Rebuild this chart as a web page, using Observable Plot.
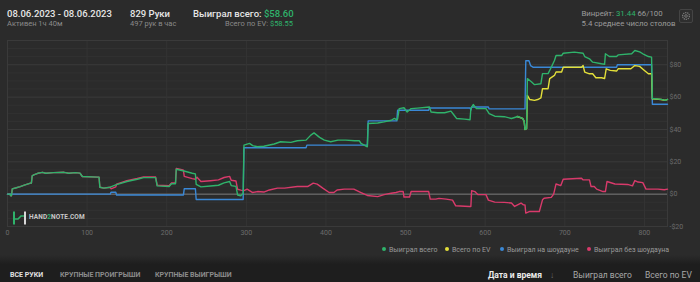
<!DOCTYPE html>
<html>
<head>
<meta charset="utf-8">
<script src="https://cdn.jsdelivr.net/npm/d3@7"></script>
<script src="https://cdn.jsdelivr.net/npm/@observablehq/plot@0.6"></script>
<style>
  html, body { margin: 0; padding: 0; }
  body { width: 700px; height: 282px; overflow: hidden; background: #2b2b2b; font-family: Roboto, "Noto Sans", sans-serif; position: relative; }
  .t { position: absolute; white-space: nowrap; line-height: 1; }
  .big { font-size: 9.5px; font-weight: 500; color: #e6e6e6; }
  .small { font-size: 7.5px; color: #8a8a8a; }
  .g { color: #2fb36b; }
  #chart { position: absolute; left: 0; top: 38px; }
  .leg { position: absolute; top: 246.5px; font-size: 7px; color: #9a9a9a; white-space: nowrap; line-height: 1; }
  .leg i { display: inline-block; width: 4px; height: 4px; border-radius: 50%; margin-right: 3px; vertical-align: 1px; }
  #band { position: absolute; left: 0; top: 255px; width: 700px; height: 27px; background: linear-gradient(#2b2b2b 0%, #1e1e1e 35%, #1e1e1e 100%); }
  .tab { font-size: 7px; font-weight: 700; color: #8c8c8c; }
  .col { font-size: 8.5px; color: #a8a8a8; }
</style>
</head>
<body>
<div class="t big" style="left:7px;top:9.3px">08.06.2023 - 08.06.2023</div>
<div class="t small" style="left:7px;top:20.4px">Активен 1ч 40м</div>
<div class="t big" style="left:130px;top:9.3px">829 Руки</div>
<div class="t small" style="left:130px;top:20.4px">497 рук в час</div>
<div class="t big" style="left:193px;top:9.3px">Выиграл всего: <span class="g">$58.60</span></div>
<div class="t small" style="right:407px;top:20.4px">Всего по EV: <span class="g">$58.55</span></div>
<div class="t small" style="left:581.5px;top:10.2px;font-size:7.8px;color:#9c9c9c">Винрейт: <span class="g">31.44</span> 66/100</div>
<div class="t small" style="left:581.5px;top:20.2px;font-size:7.8px;color:#9c9c9c">5.4 среднее число столов</div>
<div style="position:absolute;left:679px;top:9px;width:14px;height:14px;border:1px solid #444;border-radius:2px;box-sizing:border-box;background:#2e2e2e">
  <svg width="12" height="12" viewBox="0 0 12 12" style="position:absolute;left:0;top:0">
    <circle cx="6" cy="6" r="3.4" fill="none" stroke="#7d7d7d" stroke-width="1.2" stroke-dasharray="1.3 0.8"/>
    <circle cx="6" cy="6" r="1.3" fill="none" stroke="#7d7d7d" stroke-width="0.9"/>
  </svg>
</div>

<div id="chart"></div>

<div style="position:absolute;left:12px;top:210px;">
  <svg width="20" height="14" viewBox="0 0 20 14">
    <rect x="1" y="0.5" width="2" height="13" fill="#2fb36b"/>
    <rect x="12" y="0.5" width="2" height="13" fill="#d8d8d8"/>
    <path d="M3 8 L6 8 L9 5 L12 5" fill="none" stroke="#2fb36b" stroke-width="1.6"/>
  </svg>
</div>
<div class="t" style="left:29px;top:214.3px;font-size:6.5px;font-weight:700;color:#c8c8c8;letter-spacing:0.1px">HAND<span class="g">2</span>NOTE.COM</div>

<div class="leg" style="left:382px"><i style="background:#2fb36b"></i>Выиграл всего</div>
<div class="leg" style="left:445px"><i style="background:#e3df3a"></i>Всего по EV</div>
<div class="leg" style="left:500px"><i style="background:#3a88d6"></i>Выиграл на шоудауне</div>
<div class="leg" style="left:587px"><i style="background:#d93a6b"></i>Выиграл без шоудауна</div>

<div id="band"></div>
<div class="t tab" style="left:10px;top:272.4px;color:#e2e2e2">ВСЕ РУКИ</div>
<div class="t tab" style="left:60px;top:272.4px">КРУПНЫЕ ПРОИГРЫШИ</div>
<div class="t tab" style="left:155px;top:272.4px">КРУПНЫЕ ВЫИГРЫШИ</div>
<div class="t col" style="left:488px;top:271.3px;font-weight:700;color:#ececec">Дата и время</div>
<div class="t col" style="left:550px;top:271.3px;color:#707070">↓</div>
<div class="t col" style="left:573px;top:271.3px">Выиграл всего</div>
<div class="t col" style="left:645px;top:271.3px">Всего по EV</div>

<script>
// ---- data: [hand number, dollars] ----
const totalWon = [[0,0],[3,0],[4,-1],[5,-1],[6,3.3],[10,3.8],[16,4.7],[22,5.7],[29,6.8],[30,6.8],[31,11.3],[33,11.9],[38,12.9],[44,13.5],[48,12.9],[58,13.3],[71,13.5],[77,12.9],[85,13.3],[91,13.0],[92,12.3],[94,10.9],[113,10.5],[115,10.5],[116,4.3],[121,3.7],[129,4.3],[136,5.7],[150,7.8],[163,9.2],[171,10.2],[186,10.2],[188,5.1],[203,4.7],[206,6.4],[211,6.4],[212,15.4],[219,14.6],[224,14.0],[232,12.9],[236,12.5],[237,6.0],[243,4.5],[255,5.0],[265,5.5],[272,7.0],[279,7.8],[281,5.3],[287,4.8],[289,-0.5],[293,-1.0],[296,0.5],[297,30.3],[304,31.4],[308,30.0],[314,29.3],[322,29.6],[335,31.0],[343,32.4],[356,32.0],[364,33.0],[375,33.4],[381,36.5],[385,37.9],[392,35.1],[398,33.4],[406,32.4],[415,33.4],[425,33.4],[436,33.0],[442,33.0],[444,31.4],[452,29.3],[453,43.7],[465,44.0],[473,44.7],[482,45.7],[486,46.8],[489,45.9],[490,46.5],[492,52.9],[498,53.4],[502,50.8],[507,52.9],[515,53.2],[530,53.9],[532,50.8],[540,50.3],[549,50.3],[557,51.3],[561,48.8],[564,46.8],[574,46.4],[581,46.0],[582,52.9],[585,55.4],[589,52.9],[601,52.9],[605,49.8],[612,48.2],[624,47.9],[633,46.8],[641,48.0],[647,46.8],[649,45.0],[650,40.0],[652,40.5],[653,71.4],[658,69.5],[662,67.7],[670,68.3],[672,74.5],[679,74.5],[683,78.5],[687,82.6],[689,85.7],[696,85.7],[698,87.1],[712,87.8],[723,87.1],[725,85.1],[731,83.7],[735,81.6],[746,80.6],[750,80.3],[751,86.8],[756,85.1],[765,85.1],[767,86.1],[784,86.8],[788,88.8],[794,88.0],[798,86.8],[805,85.1],[809,84.7],[810,59.1],[821,58.6],[826,58.0],[829,58.6]];

const evWon = [[640,48.0],[647,46.8],[649,45.0],[650,40.0],[652,40.5],[653,61.1],[656,58.5],[662,58.0],[666,58.5],[670,59.5],[672,65.2],[679,65.2],[681,71.4],[687,73.4],[689,75.5],[696,75.5],[698,78.5],[721,78.5],[723,79.5],[725,75.5],[731,74.4],[735,74.4],[739,72.0],[746,72.0],[750,71.5],[752,77.5],[757,76.5],[765,76.1],[767,77.5],[783,77.5],[788,79.5],[794,79.0],[800,76.5],[805,74.4],[809,74.4],[810,58.9],[821,58.5],[826,58.0],[829,58.55]];

const showdownWon = [[0,0],[129,0],[130,1.2],[136,1.2],[137,-0.5],[221,-0.5],[222,3.3],[236,3.3],[237,-3.3],[296,-3.3],[297,28.7],[375,28.7],[376,30.3],[452,30.3],[453,45.3],[489,45.3],[490,51.9],[529,51.9],[530,53.3],[581,53.3],[582,52.0],[583,53.9],[604,53.9],[605,52.7],[650,52.7],[651,82.5],[655,82.5],[657,79.5],[660,78.5],[765,78.5],[766,80.0],[809,80.0],[810,55.6],[829,55.6]];

const nonShowdownWon = [[0,0],[3,0],[4,-1],[5,-1],[6,3.3],[10,3.8],[16,4.7],[22,5.7],[29,6.8],[30,6.8],[31,11.3],[33,11.9],[38,12.9],[44,13.5],[48,12.9],[58,13.3],[71,13.5],[77,12.9],[85,13.3],[91,13.0],[92,12.3],[94,10.9],[113,10.5],[115,10.5],[116,4.3],[121,3.7],[129,4.3],[130,3.3],[136,4.5],[137,6.2],[150,8.3],[163,9.7],[171,10.7],[186,10.7],[188,5.6],[203,5.2],[206,6.9],[211,6.9],[212,15.9],[219,15.1],[221,14.8],[222,11.0],[232,9.6],[236,9.2],[238,10.5],[243,7.8],[255,8.3],[265,8.8],[272,10.3],[279,11.0],[281,8.6],[287,8.1],[289,3.0],[293,2.5],[297,2.2],[301,3.1],[308,1.0],[314,1.6],[322,1.3],[329,2.6],[339,3.7],[348,3.7],[364,4.7],[377,4.7],[384,6.8],[389,6.2],[396,3.7],[404,1.0],[410,1.0],[414,2.6],[423,3.1],[435,3.1],[444,1.0],[452,-0.8],[465,-1.5],[473,-0.3],[482,0.6],[488,1.0],[492,1.6],[497,1.6],[498,-1.8],[505,-1.8],[507,1.6],[529,1.6],[531,-3.1],[538,-3.1],[542,-2.6],[551,-3.1],[559,-3.7],[563,-7.2],[580,-7.6],[582,-7.6],[583,2.2],[587,1.6],[591,-0.3],[601,-0.3],[604,-3.7],[612,-4.9],[624,-5.1],[633,-5.5],[637,-7.6],[645,-5.5],[648,-6.6],[650,-6.6],[651,-11.7],[656,-10.7],[668,-10.7],[672,-3.5],[674,-2.5],[683,-2.0],[686,0.0],[689,6.3],[695,5.3],[698,9.2],[721,9.8],[723,8.8],[731,8.8],[733,4.7],[737,4.7],[740,3.1],[748,1.6],[751,1.6],[753,7.8],[763,6.3],[779,6.0],[785,5.1],[788,8.4],[792,7.5],[798,7.1],[802,3.1],[817,3.1],[825,2.7],[829,3.1]];

const xTicks = [0, 100, 200, 300, 400, 500, 600, 700, 800];
const yTicks = [-20, 0, 20, 40, 60, 80];
const yMinorTicks = [-15, -10, -5, 5, 10, 15, 25, 30, 35, 45, 50, 55, 65, 70, 75, 85, 90, 95];

const colors = { total: "#2fb36b", ev: "#e3df3a", sd: "#3a88d6", nsd: "#d93a6b" };

const lineOpts = (c) => ({ x: d => d[0], y: d => d[1], stroke: c, strokeWidth: 1.4, strokeLinejoin: "round" });

const chart = Plot.plot({
  width: 700,
  height: 202,
  marginLeft: 7,
  marginRight: 33,
  marginTop: 2,
  marginBottom: 14,
  style: { background: "transparent", fontFamily: "Roboto, sans-serif" },
  x: { domain: [0, 829] },
  y: { domain: [-20, 95] },
  marks: [
    Plot.gridY(yMinorTicks, { stroke: "#323232", strokeOpacity: 1 }),
    Plot.gridY(yTicks, { stroke: "#3b3b3b", strokeOpacity: 1 }),
    Plot.gridX(xTicks, { stroke: "#343434", strokeOpacity: 1 }),
    Plot.frame({ stroke: "#3a3a3a" }),
    Plot.ruleY([0], { stroke: "#767676", strokeWidth: 1 }),
    Plot.axisX(xTicks, { tickSize: 0, tickPadding: 4, fill: "#6c6c6c", fontSize: 7, tickFormat: d => String(d), label: null }),
    Plot.axisY(yTicks, { anchor: "right", tickSize: 0, tickPadding: 2, fill: "#6c6c6c", fontSize: 7,
      tickFormat: d => d < 0 ? `-$${-d}` : `$${d}`, label: null }),
    Plot.line(nonShowdownWon, lineOpts(colors.nsd)),
    Plot.line(showdownWon, lineOpts(colors.sd)),
    Plot.line(evWon, lineOpts(colors.ev)),
    Plot.line(totalWon, lineOpts(colors.total))
  ]
});
document.getElementById("chart").appendChild(chart);
</script>
</body>
</html>
